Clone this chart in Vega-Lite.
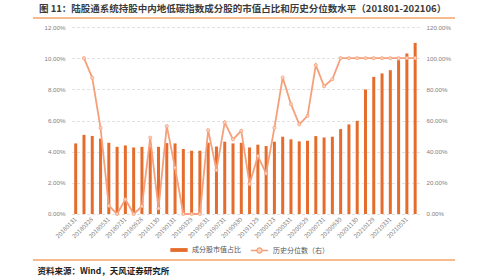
{
  "$schema": "https://vega.github.io/schema/vega-lite/v6.json",
  "width": 422,
  "height": 242,
  "autosize": "none",
  "padding": {"left": 33, "top": 18, "right": 45, "bottom": 20},
  "background": "white",
  "config": {"font": "Noto Sans CJK SC"},
  "view": {"stroke": "#F2A469", "strokeWidth": 1.5, "strokeDash": [422, 242, 422, 242]},
  "title": {
    "text": "图 11：陆股通系统持股中内地低碳指数成分股的市值占比和历史分位数水平（201801-202106）",
    "anchor": "start", "frame": "group", "fontSize": 9.5, "fontWeight": "bold",
    "color": "#3a3a3a", "offset": 5, "dx": 6, "font": "Noto Sans CJK SC"
  },
  "data": {"values": [
    {"date": "20180131", "share": 0.0453, "pct": null},
    {"date": "20180228", "share": 0.0508, "pct": 1.0},
    {"date": "20180328", "share": 0.0501, "pct": 0.874},
    {"date": "20180427", "share": 0.0484, "pct": 0.553},
    {"date": "20180531", "share": 0.0457, "pct": 0.053},
    {"date": "20180629", "share": 0.0431, "pct": 0.0},
    {"date": "20180731", "share": 0.0440, "pct": 0.094},
    {"date": "20180831", "share": 0.0427, "pct": 0.0},
    {"date": "20180928", "share": 0.0431, "pct": 0.050},
    {"date": "20181031", "share": 0.0430, "pct": 0.490},
    {"date": "20181130", "share": 0.0431, "pct": 0.036},
    {"date": "20181228", "share": 0.0455, "pct": 0.564},
    {"date": "20190131", "share": 0.0453, "pct": 0.297},
    {"date": "20190228", "share": 0.0417, "pct": 0.0},
    {"date": "20190329", "share": 0.0406, "pct": 0.0},
    {"date": "20190430", "share": 0.0406, "pct": 0.0},
    {"date": "20190531", "share": 0.0457, "pct": 0.538},
    {"date": "20190628", "share": 0.0433, "pct": 0.282},
    {"date": "20190731", "share": 0.0464, "pct": 0.588},
    {"date": "20190830", "share": 0.0453, "pct": 0.479},
    {"date": "20190930", "share": 0.0457, "pct": 0.534},
    {"date": "20191031", "share": 0.0427, "pct": 0.192},
    {"date": "20191129", "share": 0.0445, "pct": 0.372},
    {"date": "20191231", "share": 0.0436, "pct": 0.261},
    {"date": "20200123", "share": 0.0464, "pct": 0.553},
    {"date": "20200228", "share": 0.0496, "pct": 0.876},
    {"date": "20200331", "share": 0.0479, "pct": 0.705},
    {"date": "20200430", "share": 0.0466, "pct": 0.575},
    {"date": "20200529", "share": 0.0470, "pct": 0.630},
    {"date": "20200630", "share": 0.0500, "pct": 0.955},
    {"date": "20200731", "share": 0.0491, "pct": 0.820},
    {"date": "20200831", "share": 0.0496, "pct": 0.865},
    {"date": "20200930", "share": 0.0545, "pct": 1.0},
    {"date": "20201030", "share": 0.0575, "pct": 1.0},
    {"date": "20201130", "share": 0.0598, "pct": 1.0},
    {"date": "20201231", "share": 0.0799, "pct": 1.0},
    {"date": "20210129", "share": 0.0880, "pct": 1.0},
    {"date": "20210226", "share": 0.0902, "pct": 1.0},
    {"date": "20210331", "share": 0.0923, "pct": 1.0},
    {"date": "20210430", "share": 0.0987, "pct": 1.0},
    {"date": "20210531", "share": 0.1030, "pct": 1.0},
    {"date": "20210630", "share": 0.1098, "pct": 1.0}
  ]},
  "layer": [
    {
      "mark": {"type": "bar", "size": 3, "color": "#E46C2C"},
      "encoding": {
        "x": {
          "field": "date", "type": "ordinal",
          "scale": {"paddingInner": 0, "paddingOuter": 0, "range": [38.56, 386.3]},
          "axis": {
            "orient": "bottom", "domain": false,
            "ticks": false, "grid": false, "labelPadding": -42, "labelAngle": -45,
            "labelAlign": "right", "labelBaseline": "middle", "labelFontSize": 6,
            "labelColor": "#7f7f7f", "labelFont": "Noto Sans CJK SC",
            "values": ["20180131", "20180328", "20180531", "20180731", "20180928", "20181130", "20190131", "20190329", "20190531", "20190731", "20190930", "20191129", "20200123", "20200331", "20200529", "20200731", "20200930", "20201130", "20210129", "20210331", "20210531"],
            "title": "资料来源：Wind，天风证券研究所", "titleAnchor": "start", "titleAlign": "left",
            "titleX": 4, "titleY": 10, "titleBaseline": "middle", "titleFontSize": 8.5,
            "titleFontWeight": "bold", "titleColor": "#222222", "titleFont": "Noto Sans CJK SC"
          }
        },
        "y": {
          "field": "share", "type": "quantitative",
          "scale": {"domain": [-0.02952, 0.12578], "nice": false, "zero": false},
          "axis": {
            "orient": "left", "offset": -39, "domain": false, "ticks": false,
            "grid": true, "gridColor": "#d9d9d9", "gridWidth": 0.8, "gridDash": [3, 2],
            "values": [0, 0.02, 0.04, 0.06, 0.08, 0.10, 0.12], "format": ".2%",
            "labelFontSize": 6.2, "labelColor": "#7f7f7f", "labelPadding": 7, "title": null,
            "labelFont": "Liberation Sans"
          }
        },
        "fill": {
          "datum": "成分股市值占比", "scale": {"range": ["#E46C2C"]},
          "legend": {
            "orient": "none", "legendX": 137, "legendY": 223, "direction": "horizontal",
            "title": null, "symbolType": "M-1,-0.22H1V0.22H-1Z", "symbolSize": 300,
            "symbolStrokeWidth": 0, "labelFontSize": 7, "labelColor": "#555555",
            "labelFont": "Noto Sans CJK SC", "padding": 0
          }
        }
      }
    },
    {
      "mark": {"type": "line", "strokeWidth": 1.8, "point": {"filled": true, "fill": "#FCD5C0", "stroke": "#F5A07A", "strokeWidth": 0.8, "size": 10}},
      "encoding": {
        "x": {"field": "date", "type": "ordinal", "axis": null},
        "y": {
          "field": "pct", "type": "quantitative",
          "scale": {"domain": [-0.2952, 1.2578], "nice": false, "zero": false},
          "axis": {
            "orient": "right", "offset": -36, "domain": false, "ticks": false, "grid": false,
            "values": [0, 0.2, 0.4, 0.6, 0.8, 1.0, 1.2], "format": ".2%",
            "labelFontSize": 6.2, "labelColor": "#7f7f7f", "labelPadding": 7, "title": null,
            "labelFont": "Liberation Sans"
          }
        },
        "stroke": {
          "datum": "历史分位数（右）", "scale": {"range": ["#F5A07A"]},
          "legend": {
            "orient": "none", "legendX": 217, "legendY": 223, "direction": "horizontal",
            "title": null, "symbolType": "M-1,0H-0.3M0.3,0H1M0.3,0A0.3,0.3,0,1,1,-0.3,0A0.3,0.3,0,1,1,0.3,0",
            "symbolSize": 300, "symbolStrokeWidth": 1.3, "symbolFillColor": "#FCD5C0",
            "labelFontSize": 7, "labelColor": "#555555", "labelFont": "Noto Sans CJK SC", "padding": 0
          }
        }
      }
    }
  ],
  "resolve": {"scale": {"y": "independent"}, "axis": {"x": "independent", "y": "independent"}}
}
